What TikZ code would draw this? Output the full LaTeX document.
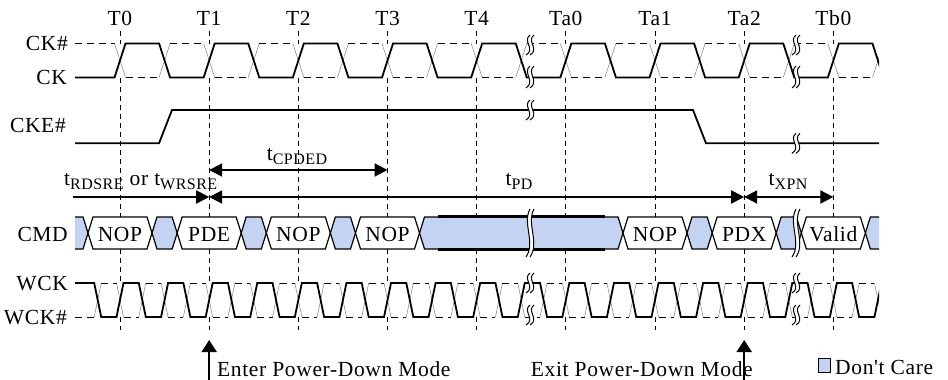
\documentclass[tikz,border=0pt]{standalone}
\usepackage{fontspec}
\setmainfont{Liberation Serif}
\newfontfamily\lblfont{Liberation Serif}[LetterSpace=3]
\usetikzlibrary{arrows.meta}
\definecolor{dcblue}{RGB}{197,211,243}
\newcommand\tsub[1]{t\raisebox{-4.5pt}{\fontsize{16}{17}\selectfont #1}}
\newcommand\brkmark[3]{%
  \begin{scope}[shift={(#1,#2)}]
    \fill[white] (0,-#3/2) .. controls (-8,-#3/5) and (6,#3/5) .. (-4,#3/2)
      -- (0,#3/2) .. controls (10,#3/5) and (-4,-#3/5) .. (4,-#3/2) -- cycle;
    \draw[brkline] (0,-#3/2) .. controls (-8,-#3/5) and (6,#3/5) .. (-4,#3/2);
    \draw[brkline] (4,-#3/2) .. controls (-4,-#3/5) and (10,#3/5) .. (0,#3/2);
  \end{scope}}
\begin{document}
\begin{tikzpicture}[x=1pt,y=-1pt,
  every node/.style={inner sep=0pt,font=\lblfont\fontsize{21.5}{24}\selectfont},
  vdash/.style={line width=0.8pt,dash pattern=on 5pt off 4pt},
  wave/.style={line width=1.8pt,line join=miter},
  cslope/.style={line width=0.5pt,gray},
  cdash/.style={line width=0.6pt,dash pattern=on 7pt off 5pt},
  hexw/.style={line width=1.2pt,fill=white},
  hexb/.style={line width=1.2pt,fill=dcblue},
  brkline/.style={line width=1pt},
  tarr/.style={line width=2pt},
  barr/.style={line width=2pt,-{Triangle[length=12pt,width=15pt]}},
  >={Triangle[length=13pt,width=13pt]}]
\useasboundingbox (0,0) rectangle (948,380);
\def\P{89.17}
\def\Q{44.585}
% time labels and dashed verticals
\foreach \n [count=\k from 0] in {T0,T1,T2,T3,T4,Ta0,Ta1,Ta2,Tb0} {
  \pgfmathsetmacro\xx{120+\k*\P}
  \node[anchor=base] (time\k) at (\xx,25) {\n};
  \draw[vdash] (\xx,31) -- (\xx,43.5);
  \draw[vdash] (\xx,77.5) -- (\xx,217);
  \draw[vdash] (\xx,249) -- (\xx,283);
  \draw[vdash] (\xx,317) -- (\xx,330);
}
% signal names
\node[anchor=base east] (nckb) at (68,50.5) {CK\#};
\node[anchor=base east] (nck) at (67,84.5) {CK};
\node[anchor=base east] (ncke) at (66,132) {CKE\#};
\node[anchor=base east] (ncmd) at (68,241) {CMD};
\node[anchor=base east] (nwck) at (68,290) {WCK};
\node[anchor=base east] (nwckb) at (67,324) {WCK\#};
\begin{scope}
\clip (75,0) rectangle (879,380);
% CK
\draw[cdash] (75,43.5) -- (114.5,43.5);
\foreach \k in {0,...,8} {
  \pgfmathsetmacro\xr{120+\k*\P}
  \pgfmathsetmacro\xf{\xr+\P/2}
  \draw[cslope] (\xr-5.5,43.5) -- (\xr+5.5,77.5);
  \draw[cslope] (\xf-5.5,77.5) -- (\xf+5.5,43.5);
  \draw[cdash] (\xr+5.5,77.5) -- (\xf-5.5,77.5);
  \draw[cdash] (\xf+5.5,43.5) -- (\xr+\P-5.5,43.5);
}
\draw[wave] (75,77.5) \foreach \k in {0,...,8} {
  -- ({120+\k*\P-5.5},77.5) -- ({120+\k*\P+5.5},43.5)
  -- ({120+(\k+0.5)*\P-5.5},43.5) -- ({120+(\k+0.5)*\P+5.5},77.5) } -- (900,77.5);
% CKE
\draw[wave] (75,143.3) -- (159,143.3) -- (172,110) -- (693,110) -- (706,143.3) -- (900,143.3);
% WCK
\draw[cdash] (75,317) -- (94.2,317);
\foreach \k in {0,...,18} {
  \pgfmathsetmacro\xf{120+(\k-0.5)*\Q}
  \pgfmathsetmacro\xr{120+\k*\Q}
  \draw[cslope] (\xf-3.5,317) -- (\xf+3.5,283);
  \draw[cslope] (\xr-3.5,283) -- (\xr+3.5,317);
  \draw[cdash] (\xf+3.5,283) -- (\xr-3.5,283);
  \draw[cdash] (\xr+3.5,317) -- (\xr+\Q/2-3.5,317);
}
\draw[wave] (75,283) \foreach \k in {0,...,18} {
  -- ({120+(\k-0.5)*\Q-3.5},283) -- ({120+(\k-0.5)*\Q+3.5},317)
  -- ({120+\k*\Q-3.5},317) -- ({120+\k*\Q+3.5},283) };
\end{scope}
% CMD bus
\fill[dcblue] (75,217) -- (83,217) -- (88,233) -- (83,249) -- (75,249) -- cycle;
\draw[line width=1.2pt] (75,217) -- (83,217) -- (88,233) -- (83,249) -- (75,249);
\fill[dcblue] (879,217) -- (870.36,217) -- (865.36,233) -- (870.36,249) -- (879,249) -- cycle;
\draw[line width=1.2pt] (879,217) -- (870.36,217) -- (865.36,233) -- (870.36,249) -- (879,249);
\foreach \a/\b/\s in {88/152/hexw,152/177.17/hexb,177.17/241.17/hexw,241.17/266.34/hexb,
  266.34/330.34/hexw,330.34/355.51/hexb,355.51/419.51/hexw,419.51/623.02/hexb,
  623.02/687.02/hexw,687.02/712.19/hexb,712.19/776.19/hexw,776.19/801.36/hexb,801.36/865.36/hexw} {
  \draw[\s] (\a,233) -- (\a+5,217) -- (\b-5,217) -- (\b,233) -- (\b-5,249) -- (\a+5,249) -- cycle;
}
\draw[line width=2.2pt] (438,216.5) -- (605,216.5);
\draw[line width=2.2pt] (438,249.5) -- (605,249.5);
\node[anchor=base] (c0) at (120,241) {NOP};
\node[anchor=base] (c1) at (209.17,241) {PDE};
\node[anchor=base] (c2) at (298.34,241) {NOP};
\node[anchor=base] (c3) at (387.51,241) {NOP};
\node[anchor=base] (c6) at (655.02,241) {NOP};
\node[anchor=base] (c7) at (744.19,241) {PDX};
\node[anchor=base] (c8) at (833.36,241) {Valid};
% break marks
\brkmark{530}{45}{20}
\brkmark{530}{77}{22}
\brkmark{530}{110}{20}
\brkmark{530}{233}{48}
\brkmark{530}{283}{20}
\brkmark{530}{315}{20}
\brkmark{796}{45}{20}
\brkmark{796}{77}{22}
\brkmark{796}{143.3}{20}
\brkmark{796}{233}{48}
\brkmark{796}{283}{20}
\brkmark{796}{315}{20}
% timing arrows
\coordinate (aL) at (73,197);
\coordinate (aT1) at (209.17,197);
\coordinate (aTa2) at (744.19,197);
\coordinate (aTb0) at (833.36,197);
\coordinate (cT1) at (209.17,170);
\coordinate (cT3) at (387.51,170);
\draw[tarr,->] (aL) -- (aT1);
\draw[tarr,<->] (aT1) -- (aTa2);
\draw[tarr,<->] (aTa2) -- (aTb0);
\draw[tarr,<->] (cT1) -- (cT3);
\node[anchor=base west] (lrd) at (64,185) {\tsub{RDSRE} or \tsub{WRSRE}};
\node[anchor=base] (lcp) at (297,160) {\tsub{CPDED}};
\node[anchor=base] (lpd) at (519,185) {\tsub{PD}};
\node[anchor=base] (lxp) at (788,185) {\tsub{XPN}};
% bottom annotations
\node[anchor=base west] (ent) at (217,376) {Enter Power-Down Mode};
\node[anchor=base east] (ext) at (753,376) {Exit Power-Down Mode};
\coordinate (enB) at (209.17,381);
\coordinate (enT) at (209.17,340);
\coordinate (exB) at (744.19,381);
\coordinate (exT) at (744.19,340);
\draw[barr] (enB) -- (enT);
\draw[barr] (exB) -- (exT);
\node[draw,fill=dcblue,line width=1pt,minimum width=12.5pt,minimum height=14.5pt] (dc) at (824.5,365.5) {};
\node[anchor=base west] (dct) at (835,374) {Don't Care};
\end{tikzpicture}
\end{document}
